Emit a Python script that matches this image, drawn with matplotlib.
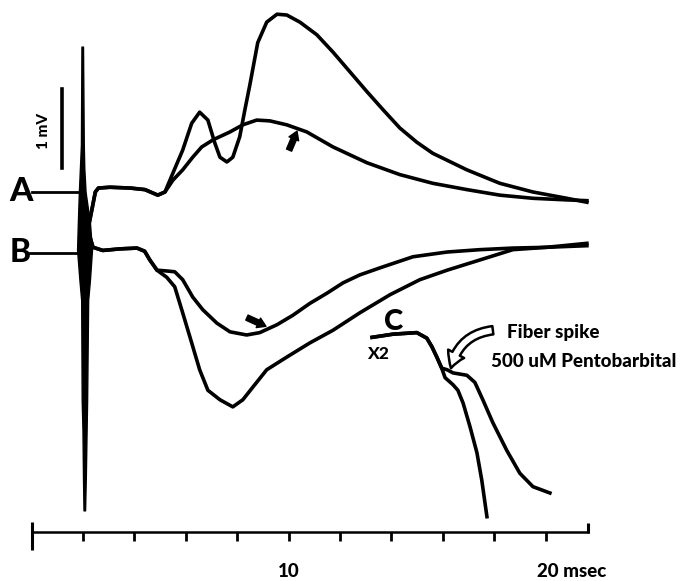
import matplotlib.pyplot as plt

# time in msec, potential in mV (A baseline = 0)
a_pre_t = [0.02, 1.81]
a_pre_v = [0.0, 0.0]
b_pre_t = [-0.06, 1.81]
b_pre_v = [-0.77, -0.77]

# A: shared start after the stimulus artifact
a_start_t = [2.19, 2.36, 2.48, 2.60, 3.05, 3.83, 4.41, 4.91, 5.19]
a_start_v = [-0.48, -0.20, 0.00, 0.05, 0.06, 0.05, 0.03, -0.04, 0.00]

a1_t = [5.50, 5.88, 6.23, 6.54, 6.86, 7.13, 7.33, 7.60, 7.83, 8.10, 8.30, 8.49,
        8.80, 9.15, 9.55, 9.93, 10.44, 11.10, 11.73, 12.39, 13.05, 13.68, 14.33,
        14.99, 15.61, 16.94, 18.22, 19.51, 20.83, 21.61]
a1_v = [0.24, 0.53, 0.87, 1.01, 0.91, 0.62, 0.44, 0.38, 0.44, 0.70, 1.04, 1.35,
        1.89, 2.15, 2.25, 2.24, 2.15, 1.99, 1.77, 1.52, 1.27, 1.04, 0.81,
        0.63, 0.49, 0.28, 0.11, 0.00, -0.08, -0.13]

a2_t = [5.50, 5.88, 6.27, 6.62, 7.06, 7.72, 8.22, 8.76, 9.27, 9.93, 10.71, 11.73,
        13.05, 14.33, 15.61, 16.94, 18.22, 19.51, 20.83, 21.61]
a2_v = [0.15, 0.28, 0.44, 0.57, 0.66, 0.76, 0.85, 0.91, 0.90, 0.85, 0.76, 0.57,
        0.37, 0.22, 0.11, 0.03, -0.04, -0.08, -0.10, -0.11]

# B
b_start_t = [2.15, 2.27, 2.39, 2.77, 3.44, 4.10, 4.40, 4.60, 4.88]
b_start_v = [-0.39, -0.57, -0.70, -0.74, -0.72, -0.71, -0.75, -0.86, -0.99]

b1_t = [5.26, 5.57, 5.88, 6.23, 6.54, 6.86, 7.33, 7.83, 8.22, 8.61, 9.15, 9.93,
        10.83, 11.73, 12.77, 13.95, 15.11, 16.17, 17.45, 18.73, 20.05, 21.61]
b1_v = [-1.08, -1.20, -1.53, -1.91, -2.25, -2.51, -2.63, -2.72, -2.63, -2.47, -2.25, -2.09,
        -1.91, -1.75, -1.53, -1.30, -1.11, -0.99, -0.86, -0.73, -0.70, -0.68]

b2_t = [5.26, 5.57, 5.88, 6.27, 6.66, 7.21, 7.72, 8.37, 8.88, 9.55, 10.17, 10.83,
        11.50, 12.12, 12.77, 13.56, 14.84, 16.17, 17.45, 18.73, 20.05, 21.61]
b2_v = [-1.00, -1.01, -1.11, -1.33, -1.49, -1.66, -1.77, -1.81, -1.78, -1.68, -1.56, -1.41,
        -1.28, -1.15, -1.05, -0.96, -0.82, -0.76, -0.73, -0.71, -0.70, -0.65]

# C (x2 fiber spike)
c_start_t = [13.25, 14.06, 14.99, 15.38, 15.58, 15.77, 15.96]
c_start_v = [-1.84, -1.80, -1.78, -1.85, -1.96, -2.09, -2.23]
c1_t = [16.09, 16.40, 16.59, 16.79, 17.06, 17.33, 17.52, 17.72]
c1_v = [-2.35, -2.44, -2.51, -2.67, -2.97, -3.30, -3.65, -4.11]
c2_t = [16.17, 16.40, 16.94, 17.25, 17.56, 17.95, 18.49, 19.00, 19.51, 20.17]
c2_v = [-2.25, -2.29, -2.32, -2.41, -2.63, -2.92, -3.27, -3.56, -3.73, -3.81]

# stimulus artifact outline
art_v = [1.84, 0.60, 0.30, 0.0, -0.39, -0.73, -1.11, -1.37, -2.63, -3.01, -3.60, -4.03]
art_left = [1.94, 1.92, 1.88, 1.84, 1.80, 1.77, 1.86, 1.93, 1.95, 1.98, 2.00, 2.02]
art_right = [2.00, 2.03, 2.05, 2.10, 2.27, 2.35, 2.27, 2.20, 2.16, 2.14, 2.11, 2.08]

time_ticks = [2, 4, 6, 8, 10, 12, 14, 16, 18, 20]
time_end = 21.65
scale_mv = [0.30, 1.30]

font = ['Lato', 'DejaVu Sans']
wt = 'black'
col = 'black'

fig = plt.figure(figsize=(6.83, 5.81), dpi=100)
ax = fig.add_axes([0, 0, 1, 1])
ax.set_xlim(-1.23, 25.35)
ax.set_ylim(-4.924, 2.430)
ax.axis('off')

lw = 2.6
ax.plot(a_pre_t, a_pre_v, color=col, lw=2.0)
ax.plot(b_pre_t, b_pre_v, color=col, lw=2.0)
ax.plot(a_start_t + a1_t, a_start_v + a1_v, color=col, lw=lw)
ax.plot(a_start_t + a2_t, a_start_v + a2_v, color=col, lw=lw)
ax.plot(b_start_t + b1_t, b_start_v + b1_v, color=col, lw=lw)
ax.plot(b_start_t + b2_t, b_start_v + b2_v, color=col, lw=lw)
ax.plot(c_start_t + c1_t, c_start_v + c1_v, color=col, lw=lw)
ax.plot(c_start_t + c2_t, c_start_v + c2_v, color=col, lw=lw)
ax.fill_betweenx(art_v, art_left, art_right, color=col, lw=1.0)

# 1 mV calibration bar
ax.plot([1.18, 1.18], scale_mv, color=col, lw=2.6)
ax.text(0.48, 0.77, '1 mV', rotation=90, ha='center', va='center',
        fontsize=11, fontweight=wt, family=font)

# time scale
ax.plot([0, time_end], [-4.30, -4.30], color=col, lw=1.8)
ax.vlines(time_ticks, -4.42, -4.30, color=col, lw=2.0)
ax.vlines([0], -4.53, -4.18, color=col, lw=2.2)
ax.vlines([time_end], -4.32, -4.19, color=col, lw=2.2)
ax.text(10, -4.81, '10', ha='center', va='center', fontsize=13.5,
        fontweight=wt, family=font)
ax.text(19.66, -4.81, '20 msec', ha='left', va='center', fontsize=13.5,
        fontweight=wt, family=font)

# trace labels
ax.text(-0.41, 0.0, 'A', ha='center', va='center', fontsize=24,
        fontweight=wt, family=font)
ax.text(-0.45, -0.76, 'B', ha='center', va='center', fontsize=23,
        fontweight=wt, family=font)
ax.text(14.10, -1.65, 'C', ha='center', va='center', fontsize=21,
        fontweight=wt, family=font)
ax.text(13.48, -2.05, 'X2', ha='center', va='center', fontsize=12.5,
        fontweight=wt, family=font)
ax.text(18.50, -1.78, 'Fiber spike', ha='left', va='center', fontsize=13.5,
        fontweight=wt, family=font)
ax.text(17.87, -2.15, '500 uM Pentobarbital', ha='left', va='center',
        fontsize=13.5, fontweight=wt, family=font)

# small filled arrows
small = dict(arrowstyle='simple,head_length=0.6,head_width=0.75,tail_width=0.4',
             fc=col, ec=col, shrinkA=0, shrinkB=0)
ax.annotate('', xy=(10.33, 0.77), xytext=(10.02, 0.53), arrowprops=small)
ax.annotate('', xy=(9.12, -1.70), xytext=(8.38, -1.59), arrowprops=small)

# hollow arrow to fiber spike
ax.annotate('', xy=(16.32, -2.23), xytext=(17.95, -1.75),
            arrowprops=dict(arrowstyle='simple,head_length=1.1,head_width=1.3,tail_width=0.6',
                            fc='white', ec=col, lw=1.8, shrinkA=0, shrinkB=0,
                            connectionstyle='arc3,rad=0.35'))

fig.savefig('out.png', dpi=100)
